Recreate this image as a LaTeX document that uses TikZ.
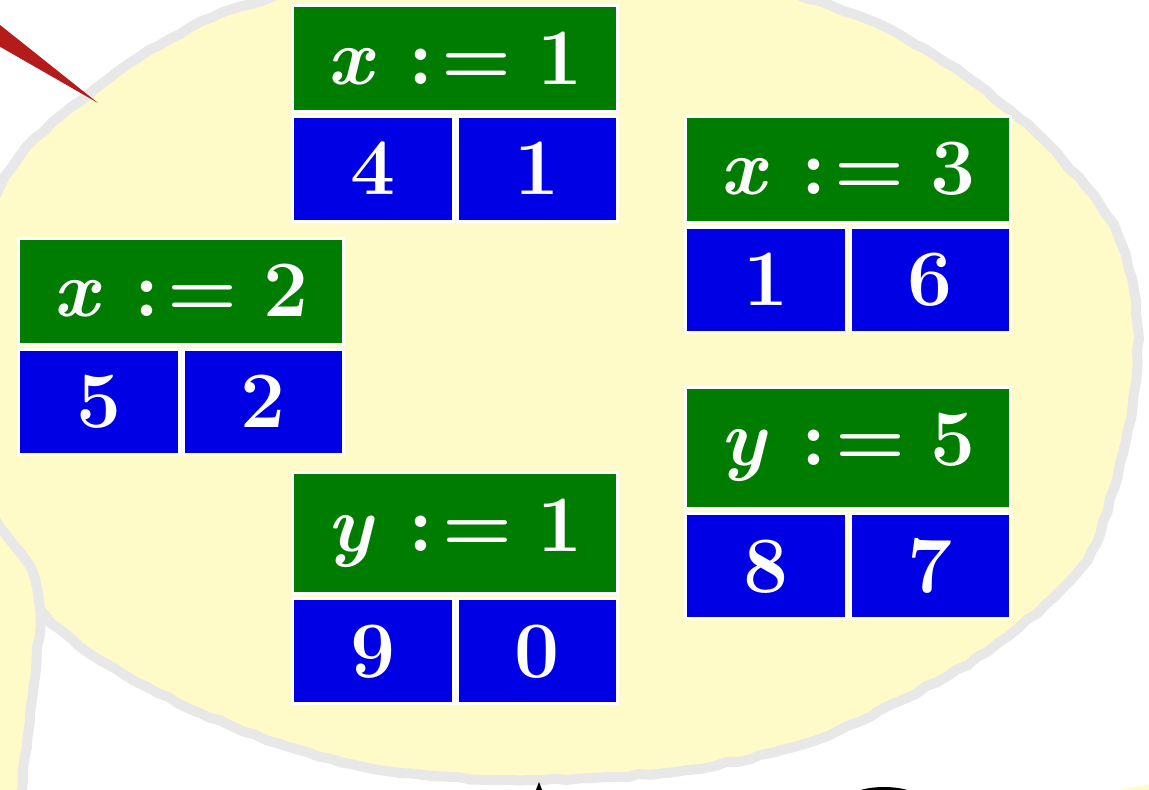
\documentclass[tikz,border=0pt]{standalone}
\usepackage{tikz}
\usetikzlibrary{positioning, decorations.pathmorphing}
\definecolor{assigngreen}{RGB}{0,125,0}
\definecolor{cellblue}{RGB}{0,0,228}
\definecolor{bubbleyellow}{RGB}{255,251,200}
\definecolor{bubblegray}{RGB}{232,232,232}
\definecolor{wedgered}{RGB}{180,28,28}
\tikzstyle{bubble} = [fill=bubbleyellow, draw=bubblegray, line width=5pt, decorate, decoration={random steps, segment length=6pt, amplitude=0.6pt}]
\newcommand{\assignto}[2]{{\itshape #1}\hspace{0.45em}:\hspace{0.11em}=\hspace{0.32em}#2}

\begin{document}
\begin{tikzpicture}[
        x=0.5pt, y=-0.5pt,
        box/.style={rectangle, draw=white, line width=1.5pt, text=white, outer sep=0pt, inner xsep=2pt, inner ysep=13.25pt, text height=26pt, font=\fontsize{40}{48}\selectfont\bfseries},
        assign/.style={box, fill=assigngreen, minimum width=162.5pt, anchor=north},
        cell/.style={box, fill=cellblue, minimum width=80.25pt, text depth=0pt}
        ]

        \pgfmathsetseed{7}
        \useasboundingbox (0,0) rectangle (1149,790);
        \clip (0,0) rectangle (1149,790);

        \path[bubble] plot[smooth cycle] coordinates {(-40,360) (0,187) (90,93) (240,7) (550,-60) (850,13) (1010,110) (1117,233) (1137,370) (1092,550) (998,643) (902,700) (807,743) (687,770) (543,780) (400,773) (300,750) (200,713) (100,660) (40,610) (-20,520)};
        \path[bubble] plot[smooth] coordinates {(-60,440) (0,527) (30,568) (40,612) (32,700) (20,800)} -- (-200,850) -- (-200,440) -- cycle;
        \fill[wedgered] (-10,17) -- (98,103) -- (-10,41) -- cycle;

        \node[assign] (assign_x1) at (455,5.8) {\assignto{x}{1}};
        \node[cell, below right=2.5pt and 0pt of assign_x1.south west] (x1_left) {4};
        \node[cell, right=2pt of x1_left] (x1_right) {1};

        \node[assign] (assign_x3) at (848,116.5) {\assignto{x}{3}};
        \node[cell, below right=2.5pt and 0pt of assign_x3.south west] (x3_left) {1};
        \node[cell, right=2pt of x3_left] (x3_right) {6};

        \node[assign] (assign_x2) at (181,238.5) {\assignto{x}{2}};
        \node[cell, below right=2.5pt and 0pt of assign_x2.south west] (x2_left) {5};
        \node[cell, right=2pt of x2_left] (x2_right) {2};

        \node[assign] (assign_y5) at (848,387.5) {\assignto{y}{5}};
        \node[cell, below right=2.5pt and 0pt of assign_y5.south west] (y5_left) {8};
        \node[cell, right=2pt of y5_left] (y5_right) {7};

        \node[assign] (assign_y1) at (455,472.5) {\assignto{y}{1}};
        \node[cell, below right=2.5pt and 0pt of assign_y1.south west] (y1_left) {9};
        \node[cell, right=2pt of y1_left] (y1_right) {0};

        \fill (532,800) -- (539,782) -- (546,800) -- cycle;
        \draw[line width=2pt] (884,809) ellipse [x radius=22pt, y radius=10pt];
        \fill[bubbleyellow] (1170,992) circle [radius=104pt];

    \end{tikzpicture}
\end{document}
